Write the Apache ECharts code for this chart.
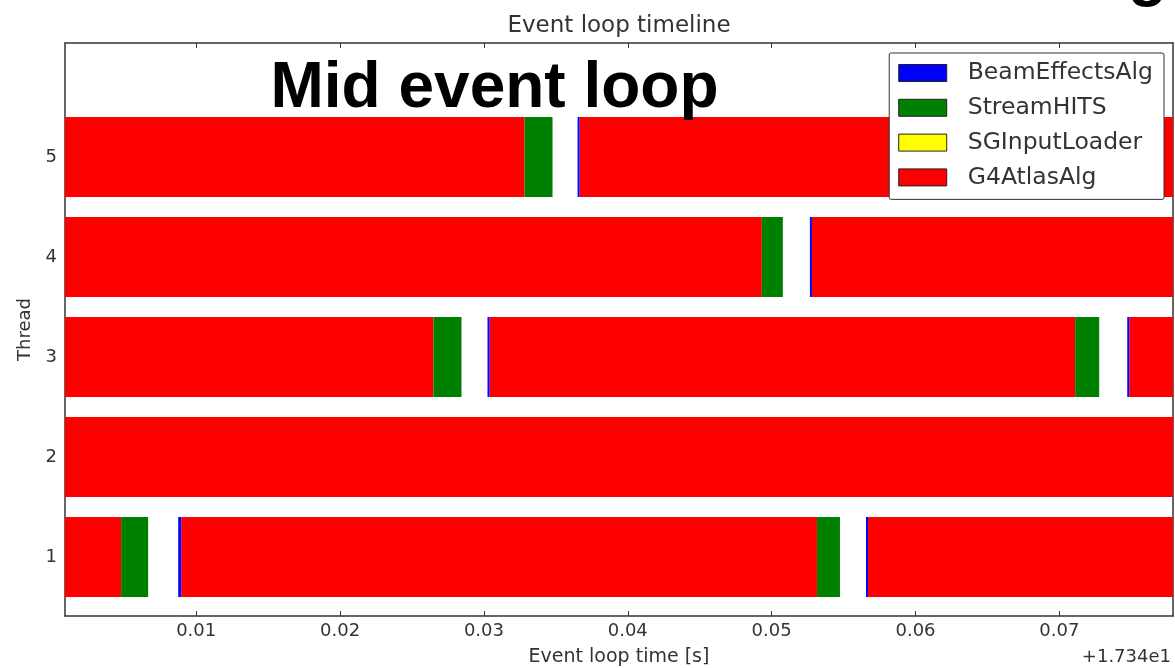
<!DOCTYPE html>
<html>
<head>
<meta charset="utf-8">
<script src="https://cdn.jsdelivr.net/npm/echarts@6/dist/echarts.min.js"></script>
<style>
html,body{margin:0;padding:0;background:#fff;}
#chart{width:1175px;height:668px;}
</style>
</head>
<body>
<div id="chart"></div>
<script>
// Time values are seconds relative to the axis offset (+17.34 s)
const threads = [1, 2, 3, 4, 5];
const xTicks = [0.01, 0.02, 0.03, 0.04, 0.05, 0.06, 0.07];
const algNames = ['BeamEffectsAlg', 'StreamHITS', 'SGInputLoader', 'G4AtlasAlg'];
const algColors = ['#0000ff', '#008000', '#ffff00', '#ff0000'];

// [thread, start, end]
const g4AtlasAlg = [
  [1, 0.0, 0.00478], [1, 0.00896, 0.05315], [1, 0.0567, 0.085],
  [2, 0.0, 0.085],
  [3, 0.0, 0.02649], [3, 0.03039, 0.0711], [3, 0.07486, 0.085],
  [4, 0.0, 0.04932], [4, 0.0528, 0.085],
  [5, 0.0, 0.03283], [5, 0.03665, 0.085]
];
const streamHITS = [
  [1, 0.00478, 0.00666], [1, 0.05315, 0.05475],
  [3, 0.02649, 0.02844], [3, 0.0711, 0.07277],
  [4, 0.04932, 0.05078],
  [5, 0.03283, 0.03477]
];
const beamEffectsAlg = [
  [1, 0.00875, 0.00896], [1, 0.05656, 0.0567],
  [3, 0.03025, 0.03039], [3, 0.07472, 0.07486],
  [4, 0.05266, 0.0528],
  [5, 0.03651, 0.03665]
];
const sgInputLoader = [];

const xMin = 0.00088, xMax = 0.0779;
const yMin = 0.41, yMax = 6.14;
const barHeight = 0.8;

function renderItem(params, api) {
  const t = api.value(0);
  const p0 = api.coord([api.value(1), t]);
  const p1 = api.coord([api.value(2), t]);
  const h = api.size([0, barHeight])[1];
  const cs = params.coordSys;
  const shape = echarts.graphic.clipRectByRect(
    {x: p0[0], y: p0[1] - h / 2, width: p1[0] - p0[0], height: h},
    {x: cs.x, y: cs.y, width: cs.width, height: cs.height}
  );
  return shape && {type: 'rect', shape: shape, style: api.style()};
}

function mkSeries(name, data) {
  const i = algNames.indexOf(name);
  return {
    type: 'custom', name: name, renderItem: renderItem,
    itemStyle: {color: algColors[i]},
    encode: {x: [1, 2], y: 0},
    data: data, silent: true, animation: false
  };
}

const txt = '#333';
const font = 'DejaVu Sans';
const axisLine = {show: true, lineStyle: {color: '#333', width: 1.5}};

const chart = echarts.init(document.getElementById('chart'), null, {renderer: 'canvas'});
chart.setOption({
  backgroundColor: '#fff',
  animation: false,
  title: {
    text: 'Event loop timeline', left: 619, top: 15, textAlign: 'center', padding: 0,
    textStyle: {fontFamily: font, fontSize: 23, fontWeight: 'normal', color: txt}
  },
  grid: {left: 65, right: 2, top: 43, bottom: 52, containLabel: false, outerBoundsMode: 'none'},
  legend: {
    orient: 'vertical', right: 11, top: 53,
    data: algNames,
    icon: 'rect', itemWidth: 48, itemHeight: 17, itemGap: 10.8,
    padding: [8, 11, 10, 9],
    backgroundColor: '#fff', borderColor: '#333', borderWidth: 1, borderRadius: 2,
    itemStyle: {borderColor: '#222', borderWidth: 1},
    textStyle: {fontFamily: font, fontSize: 23.5, lineHeight: 23, color: txt, padding: [0, 0, 0, 16]},
    selectedMode: false
  },
  xAxis: [{
    type: 'value', min: xMin, max: xMax, position: 'bottom',
    name: 'Event loop time [s]', nameLocation: 'middle', nameGap: 32,
    nameTextStyle: {fontFamily: font, fontSize: 19, color: txt},
    axisLine: axisLine,
    axisTick: {show: true, inside: true, length: 5, customValues: xTicks, lineStyle: {color: '#333'}},
    axisLabel: {show: true, margin: 6, customValues: xTicks, fontFamily: font, fontSize: 18, color: txt,
      formatter: v => v.toFixed(2)},
    splitLine: {show: false}
  }, {
    type: 'value', min: xMin, max: xMax, position: 'top',
    axisLine: axisLine,
    axisTick: {show: true, inside: true, length: 5, customValues: xTicks, lineStyle: {color: '#333'}},
    axisLabel: {show: false}, splitLine: {show: false}
  }],
  yAxis: [{
    type: 'value', min: yMin, max: yMax, position: 'left',
    name: 'Thread', nameLocation: 'middle', nameGap: 30,
    nameTextStyle: {fontFamily: font, fontSize: 18, color: txt},
    axisLine: axisLine,
    axisTick: {show: true, inside: true, length: 5, customValues: threads, lineStyle: {color: '#333'}},
    axisLabel: {show: true, margin: 8, customValues: threads, fontFamily: font, fontSize: 18, color: txt},
    splitLine: {show: false}
  }, {
    type: 'value', min: yMin, max: yMax, position: 'right',
    axisLine: axisLine,
    axisTick: {show: true, inside: true, length: 5, customValues: threads, lineStyle: {color: '#333'}},
    axisLabel: {show: false}, splitLine: {show: false}
  }],
  series: [
    mkSeries('G4AtlasAlg', g4AtlasAlg),
    mkSeries('SGInputLoader', sgInputLoader),
    mkSeries('StreamHITS', streamHITS),
    mkSeries('BeamEffectsAlg', beamEffectsAlg)
  ],
  graphic: [
    {type: 'text', z: 100, x: 1171, y: 657,
      style: {text: '+1.734e1', fontFamily: font, fontSize: 18, fill: txt, align: 'right', verticalAlign: 'middle'}},
    {type: 'text', z: 100, x: 494.5, y: 89,
      style: {text: 'Mid event loop', fontFamily: 'Liberation Sans', fontWeight: 'bold', fontSize: 64,
        fill: '#000', align: 'center', verticalAlign: 'middle'}},
    {type: 'text', z: 100, x: 1128, y: -24,
      style: {text: 'g', fontFamily: 'Liberation Sans', fontWeight: 'bold', fontSize: 64,
        fill: '#000', align: 'left', verticalAlign: 'middle'}}
  ]
});
</script>
</body>
</html>
